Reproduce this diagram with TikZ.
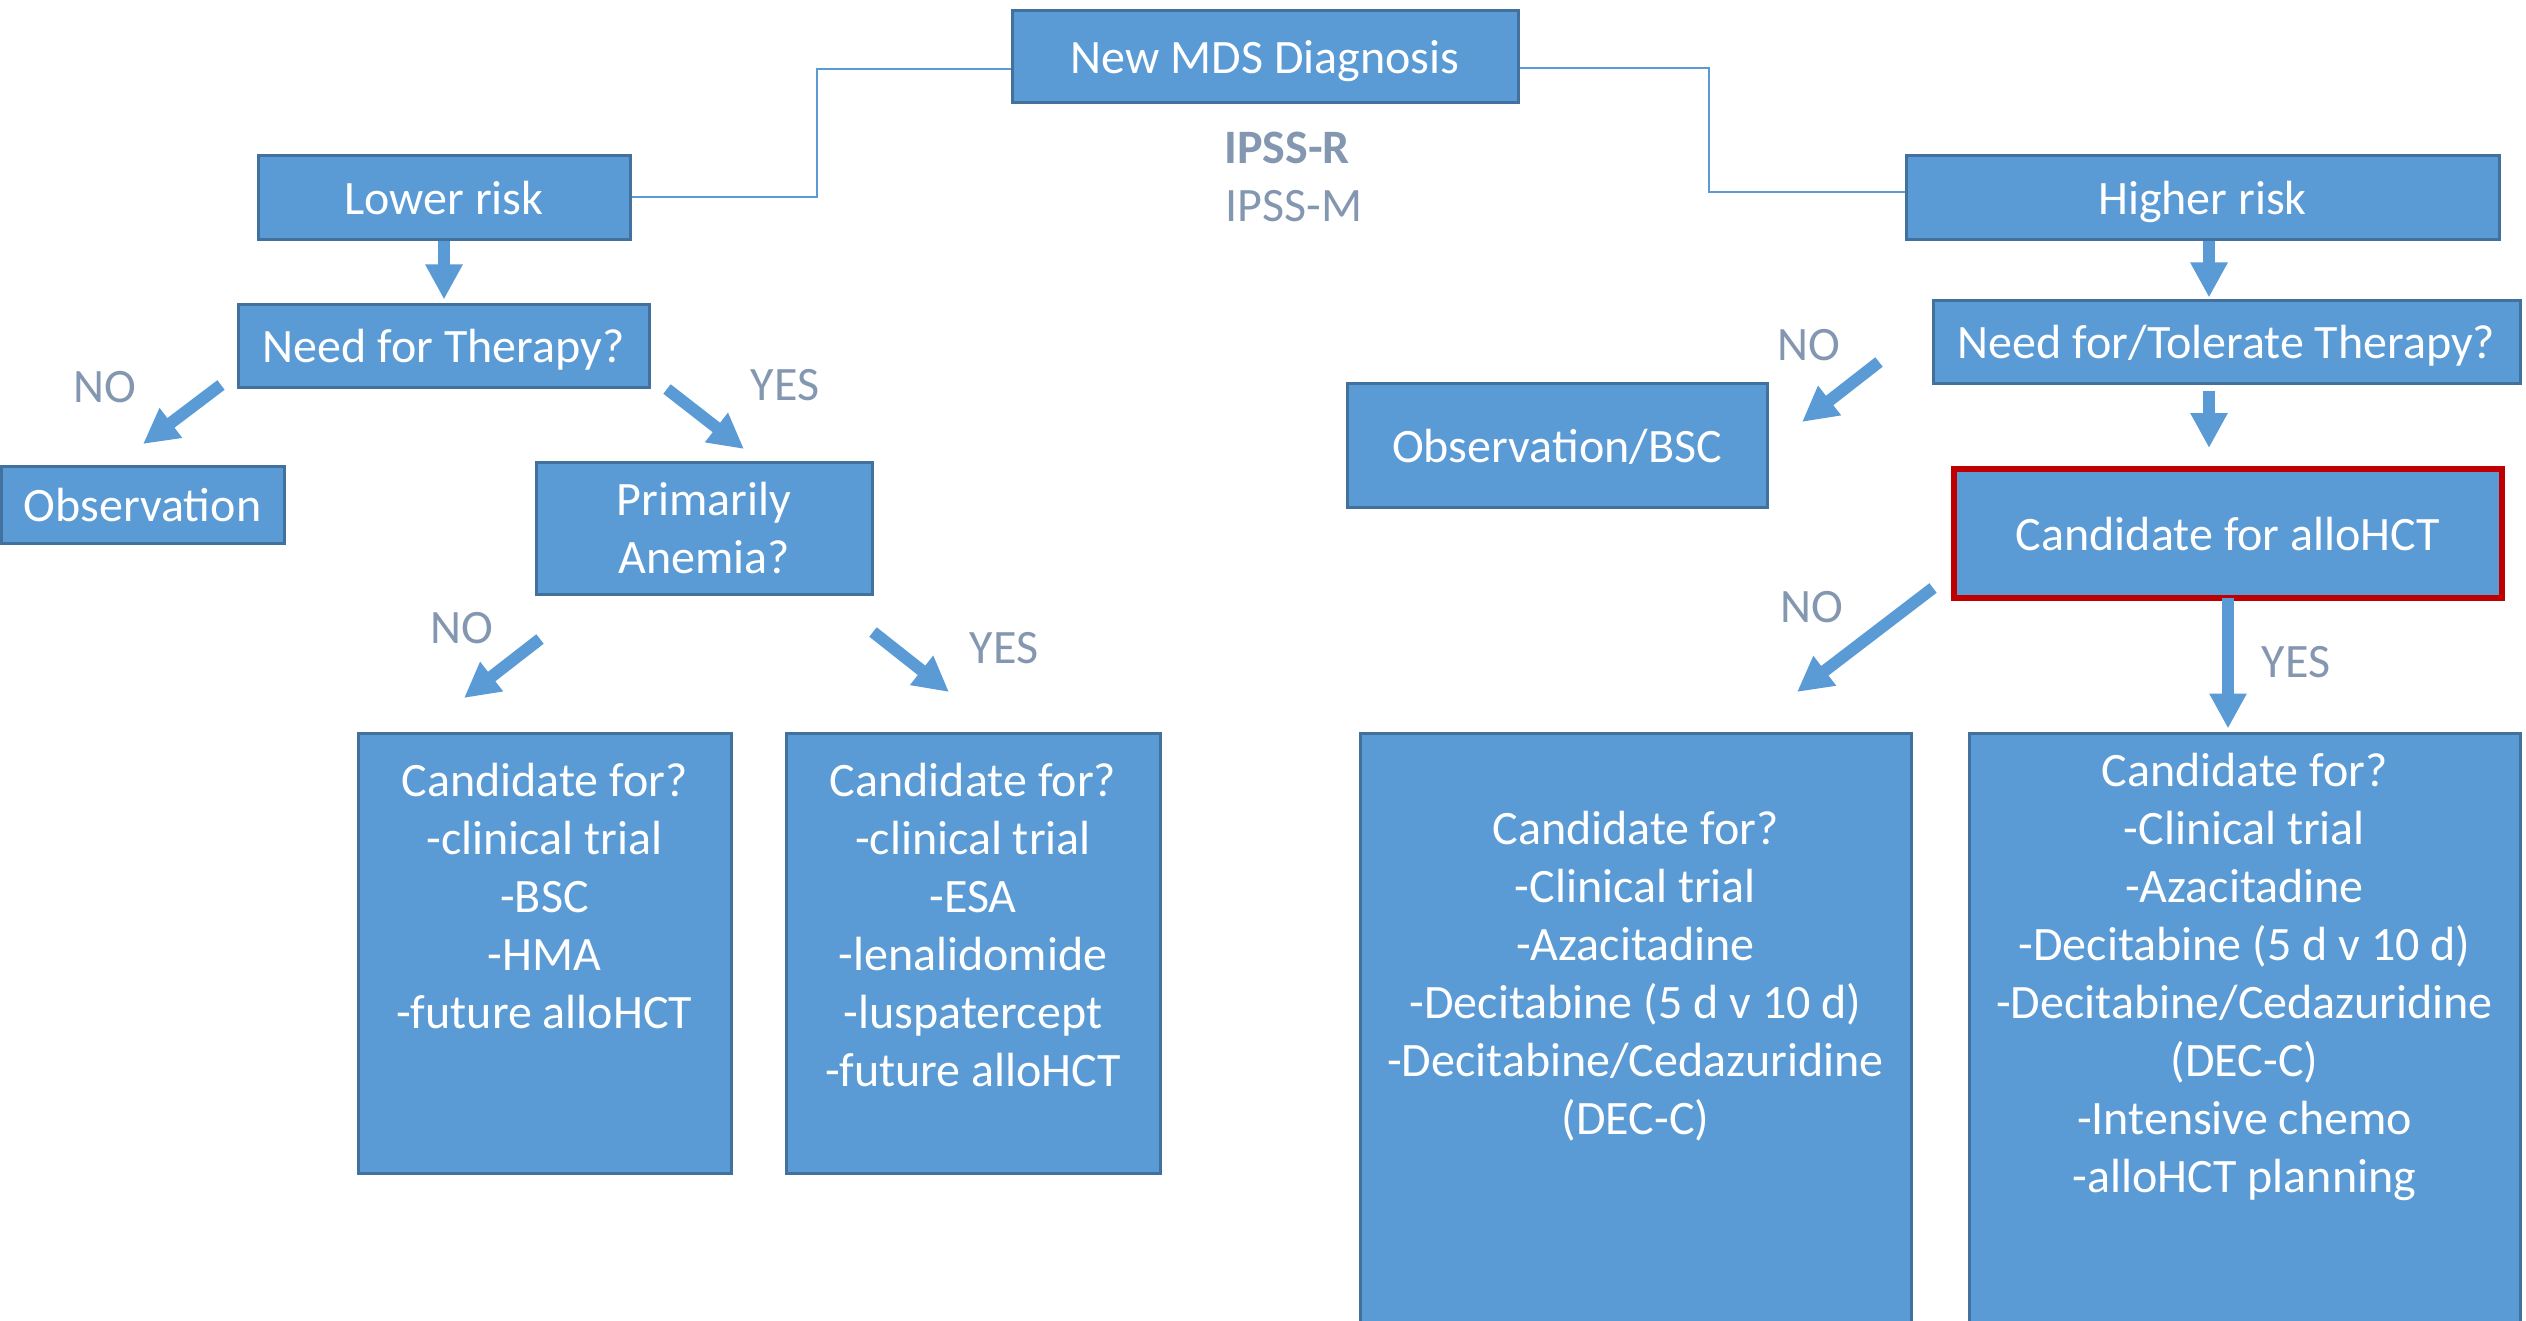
\documentclass[tikz,border=0pt]{standalone}
\usepackage{fontspec}
\setmainfont{Carlito}
\usetikzlibrary{arrows.meta,calc}
\definecolor{boxfill}{HTML}{5B9BD5}
\definecolor{boxline}{HTML}{41719C}
\definecolor{lbl}{HTML}{8497B0}
\definecolor{redb}{HTML}{C00000}
\begin{document}
\begin{tikzpicture}[x=0.5pt,y=-0.5pt,
  box/.style={draw=boxline, line width=1.5pt, fill=boxfill, text=white,
    font=\fontsize{24}{29}\selectfont, align=center, inner sep=0pt},
  oneline/.style={text height=19.5pt, text depth=2.5pt},
  boxtext/.style={text=white, font=\fontsize{24}{29}\selectfont, align=center,
    inner sep=0pt, anchor=north},
  redbox/.style={box, draw=redb, line width=3pt},
  blockarrow/.style={draw=boxfill, line width=6pt,
    -{Triangle[width=17.5pt,length=17.5pt]}},
  thinline/.style={draw=boxfill, line width=1pt},
  lab/.style={text=lbl, font=\fontsize{24}{28}\selectfont, inner sep=0pt}]
\useasboundingbox (0,0) rectangle (2526,1321);
\fill[white] (0,0) rectangle (2526,1321);

% boxes
\node[box, oneline, minimum width=253pt, minimum height=46pt] (mds) at (1265,57) {New MDS Diagnosis};
\node[box, oneline, minimum width=186pt, minimum height=42pt] (lower) at (444,198) {Lower risk};
\node[box, oneline, minimum width=296.5pt, minimum height=42pt] (higher) at (2202.5,198) {Higher risk};
\node[box, oneline, minimum width=205.5pt, minimum height=41.5pt] (need) at (443.5,345.5) {Need for Therapy?};
\node[box, oneline, minimum width=141.5pt, minimum height=38.5pt] (obs) at (142.5,504.5) {Observation};
\node[box, minimum width=168pt, minimum height=66pt] (anemia) at (704,528) {Primarily\\Anemia?};
\node[box, minimum width=186.5pt, minimum height=220pt] (cl1) at (544.5,953) {};
\node[box, minimum width=187pt, minimum height=220pt] (cl2) at (973,953) {};
\node[box, oneline, minimum width=293.5pt, minimum height=41.5pt] (needt) at (2226.5,341.5) {Need for/Tolerate Therapy?};
\node[box, oneline, minimum width=210pt, minimum height=62pt] (obsbsc) at (1557,445) {Observation/BSC};
\node[redbox, oneline, minimum width=274pt, minimum height=64.5pt] (allo) at (2228,533.5) {Candidate for alloHCT};
\node[box, minimum width=275.5pt, minimum height=310pt] (cr1) at (1635.5,1043) {};
\node[box, minimum width=275.5pt, minimum height=310pt] (cr2) at (2244.5,1043) {};

% box texts
\node[boxtext] (t1) at ([yshift=-15.5pt]cl1.north) {Candidate for?\\-clinical trial\\-BSC\\-HMA\\-future alloHCT};
\node[boxtext] (t2) at ([yshift=-15.5pt]cl2.north) {Candidate for?\\-clinical trial\\-ESA\\-lenalidomide\\-luspatercept\\-future alloHCT};
\node[boxtext] (t3) at ([yshift=-39.5pt]cr1.north) {Candidate for?\\-Clinical trial\\-Azacitadine\\-Decitabine (5 d v 10 d)\\-Decitabine/Cedazuridine\\(DEC-C)};
\node[boxtext] (t4) at ([yshift=-10.5pt]cr2.north) {Candidate for?\\-Clinical trial\\-Azacitadine\\-Decitabine (5 d v 10 d)\\-Decitabine/Cedazuridine\\(DEC-C)\\-Intensive chemo\\-alloHCT planning};

% thin connectors
\draw[thinline] ([yshift=-6pt]mds.west) -| (817,197) -- (lower.east |- 0,197);
\draw[thinline] ([yshift=-5.5pt]mds.east) -| (1709,192) -- (higher.west |- 0,192);

% IPSS labels
\node[lab, font=\fontsize{24}{28}\selectfont\bfseries] (ipssr) at (1287,148) {IPSS-R};
\node[lab] (ipssm) at (1294,206) {IPSS-M};

% arrow end coordinates
\coordinate (a2s) at (221,385); \coordinate (a2e) at (143,444);
\coordinate (a3s) at (667,389); \coordinate (a3e) at (744,449);
\coordinate (a4s) at (540,639); \coordinate (a4e) at (464,698);
\coordinate (a5s) at (873,632); \coordinate (a5e) at (949,692);
\coordinate (a8s) at (1879,362); \coordinate (a8e) at (1802,422);
\coordinate (a9s) at (1933,588); \coordinate (a9e) at (1797,692);

% block arrows
\draw[blockarrow] (lower.south) -- ([yshift=1.5pt]lower.south |- need.north);
\draw[blockarrow] (a2s) -- (a2e);
\draw[blockarrow] (a3s) -- (a3e);
\draw[blockarrow] (a4s) -- (a4e);
\draw[blockarrow] (a5s) -- (a5e);
\draw[blockarrow] ([xshift=3.25pt]higher.south) -- ([xshift=3.25pt,yshift=0.5pt]higher.south |- needt.north);
\draw[blockarrow] ([xshift=3.25pt,yshift=-3pt]higher.south |- needt.south) -- ([xshift=3.25pt,yshift=9pt]higher.south |- allo.north);
\draw[blockarrow] (a8s) -- (a8e);
\draw[blockarrow] (a9s) -- (a9e);
\draw[blockarrow] ([yshift=1.5pt]allo.south) -- ([yshift=1.5pt]allo.south |- cr2.north);

% NO / YES labels
\node[lab] (n1) at (105,387) {NO};
\node[lab] (y1) at (785,385) {YES};
\node[lab] (n2) at (462,628) {NO};
\node[lab] (y2) at (1004,648) {YES};
\node[lab] (n3) at (1809,345) {NO};
\node[lab] (n4) at (1812,607) {NO};
\node[lab] (y3) at (2296,662) {YES};
\end{tikzpicture}
\end{document}
